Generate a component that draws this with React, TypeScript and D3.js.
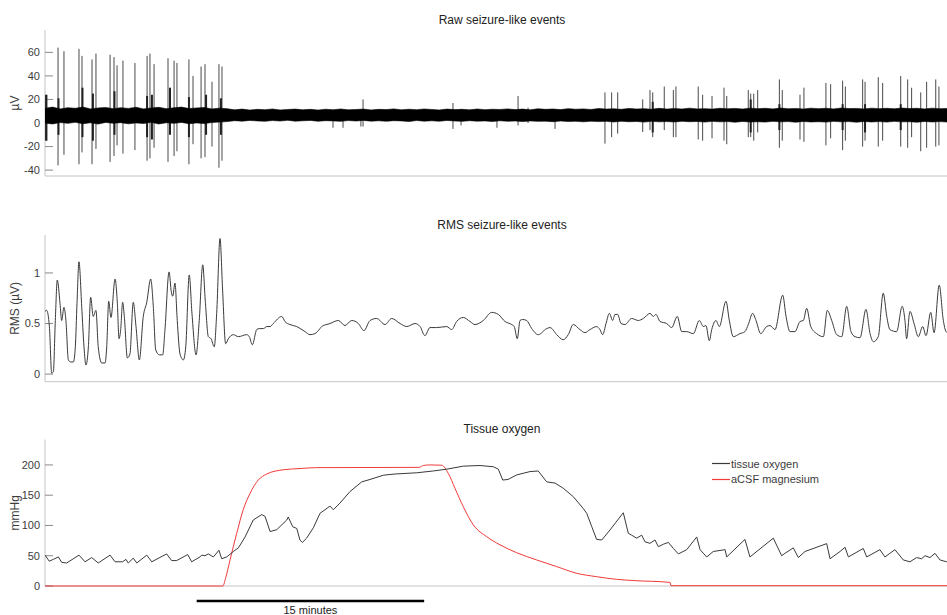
import React from "react";
import * as d3 from "d3";

// ---------- DATA ----------
// time axis in minutes (whole recording ~60 min)
const timeDomain: [number, number] = [0, 60];

// Raw trace: background band envelope (µV), sampled evenly over the recording
const bandHigh = [
  12.5, 13.5, 12, 13, 12.5, 13.5, 12, 12.8, 13.2, 12.2, 13, 12.4, 13.4, 12, 12.8, 13.3, 12.2, 12.9, 13.5, 12.3, 12.8, 13.1, 12, 12.6, 12.2,
  11.2, 11.8, 11, 11.6, 11.3, 11.9, 11.1, 11.5, 11.8, 11.2, 11.6, 11, 11.7, 11.3, 11.9, 11.2, 11.5, 11.8, 11.1, 11.6, 11.4, 12, 11.2, 11.7,
  11.3, 11.9, 11.5, 11.1, 11.8, 11.4, 11.6, 11.2, 11.9, 11.3, 11.7, 11.5, 12, 11.4, 11.8, 11.2, 12.1, 11.6, 11.9, 11.4, 12.2, 11.7, 12,
  11.5, 12.3, 11.8, 12.1, 11.6, 12.4, 11.9, 12.2, 11.7, 12.5, 11.8, 12.3, 11.9, 12.6, 12, 12.2, 11.8, 12.5, 12.1, 12.4, 11.9, 12.6, 12.2,
  12.5, 12, 12.7, 12.1, 12.4, 11.9, 12.6, 12.2, 12.5, 12, 12.7, 12.3, 12.4, 12, 12.6, 12.2, 12.5, 12.1, 12.7, 12.3, 12.5, 12, 12.6, 12.2,
  12.4, 12.1,
];
const bandLow = [
  0, -0.8, 0.4, -0.3, 0.6, -0.6, 0.2, -0.9, 0.5, -0.2, 0.3, -0.7, 0.1, -0.4, 0.6, -0.8, 0.2, -0.3, 0.5, -0.6, 0.1, -0.5, 0.4, 0.8, 1.2,
  2, 1.6, 2.2, 1.8, 1.5, 2.1, 1.7, 2.3, 1.6, 1.9, 2.2, 1.5, 2, 1.8, 1.4, 2.1, 1.7, 2.2, 1.6, 1.9, 1.5, 2, 1.8, 1.3, 2.1, 1.6, 1.9, 1.5,
  2.2, 1.7, 1.4, 2, 1.6, 1.8, 1.3, 1.9, 1.5, 1.7, 1.2, 1.8, 1.4, 1.6, 1.1, 1.7, 1.3, 1.5, 1, 1.6, 1.2, 1.4, 0.9, 1.5, 1.1, 1.3, 0.8, 1.4,
  1, 1.2, 0.9, 1.5, 1.1, 1.3, 0.8, 1.4, 1, 1.2, 0.7, 1.3, 0.9, 1.1, 0.8, 1.4, 1, 1.2, 0.7, 1.3, 0.9, 1.1, 0.8, 1.4, 1, 1.2, 0.7, 1.3,
  0.9, 1.2, 0.8, 1.4, 1, 1.1, 0.7, 1.3, 0.9, 1.2, 0.8, 1.0,
];

// Raw trace: spikes [minute, peak µV, trough µV]
const rawSpikes: [number, number, number][] = [
  [0.13, 24, -15], [0.86, 64, -36], [1.25, 61, -27], [2.24, 63, -35], [2.44, 57, -25], [3.1, 54, -35], [3.36, 59, -22],
  [4.29, 58, -33], [4.55, 56, -28], [4.75, 49, -19], [5.14, 53, -26], [5.93, 51, -23], [6.73, 57, -32], [6.92, 59, -30],
  [7.19, 50, -21], [8.11, 55, -33], [8.51, 53, -28], [8.7, 51, -24], [9.49, 54, -35], [9.76, 40, -18], [10.29, 48, -30],
  [10.55, 50, -29], [11.01, 35, -20], [11.47, 50, -38], [11.67, 48, -32],
  [18.99, 8, -4], [19.65, 8, -4], [20.83, 9, -3], [20.97, 20, -3], [26.9, 17, -5], [27.43, 12, -2], [29.8, 9, -4],
  [31.19, 23, -2], [31.85, 13, 0], [33.63, 9, -5],
  [36.92, 26, -17.5], [37.36, 26, -12], [37.76, 26, -9], [39.41, 20, -7.6], [39.89, 28, -6], [40.07, 26, -12], [40.83, 31, -6],
  [41.43, 28, -12], [41.6, 31, -12], [43.07, 31, -14], [43.36, 24, -15], [43.98, 23, -13], [44.77, 30, -15], [44.95, 23, -18],
  [46.37, 28, -12], [46.53, 25, -12], [46.73, 25, -15], [46.99, 28, -8], [48.42, 37, -21], [48.61, 28, -15], [49.78, 24, -14],
  [50.04, 30, -16], [51.49, 34, -19], [51.8, 33, -13], [52.59, 36, -23], [52.77, 31, -15], [53.91, 37, -20], [54.07, 35, -15],
  [54.94, 39, -20], [55.23, 34, -15], [56.42, 40, -20], [56.88, 37, -21], [57.14, 30, -12], [57.74, 26, -24], [58.13, 35, -21],
  [58.73, 37, -20], [58.94, 31, -19],
];

// Raw trace: short dense bursts around the spikes [minute, high, low]
const rawBursts: [number, number, number][] = [
  [0.07, 24, -15], [0.89, 21, -10], [2.47, 30, -12], [3.16, 25, -15], [4.58, 27, -10], [6.73, 23, -12], [7.05, 24, -14],
  [8.24, 30, -10], [9.49, 22, -12], [10.62, 24, -10], [11.6, 21, -10],
  [40.07, 18, -8], [46.53, 20, -8], [48.42, 16, -6], [52.59, 16, -6], [54.07, 16, -8], [56.42, 16, -6],
];

// RMS trace [minute, RMS µV]
const rmsSeries: [number, number][] = [
  [0, 0.62], [0.11, 0.63], [0.29, 0.47], [0.44, 0.01], [0.55, 0.02], [0.68, 0.53], [0.81, 0.93], [0.99, 0.7], [1.1, 0.53],
  [1.25, 0.66], [1.38, 0.53], [1.54, 0.14], [1.69, 0.12], [1.87, 0.12], [2.0, 0.27], [2.11, 0.7], [2.24, 1.11], [2.42, 0.67],
  [2.57, 0.27], [2.7, 0.09], [2.86, 0.27], [3.01, 0.76], [3.18, 0.57], [3.36, 0.63], [3.51, 0.27], [3.74, 0.11], [3.96, 0.11],
  [4.07, 0.27], [4.2, 0.72], [4.35, 0.56], [4.62, 0.94], [4.77, 0.7], [4.88, 0.35], [4.99, 0.44], [5.12, 0.71], [5.23, 0.57],
  [5.43, 0.16], [5.6, 0.2], [5.82, 0.71], [6.0, 0.47], [6.22, 0.14], [6.48, 0.57], [6.71, 0.71], [6.97, 0.94], [7.14, 0.67],
  [7.3, 0.24], [7.54, 0.19], [7.76, 0.19], [7.91, 0.44], [8.18, 1.01], [8.33, 0.81], [8.42, 0.77], [8.57, 0.9], [8.72, 0.53],
  [8.9, 0.2], [9.12, 0.14], [9.28, 0.27], [9.51, 0.98], [9.69, 0.6], [9.96, 0.19], [10.17, 0.53], [10.4, 1.08], [10.57, 0.72],
  [10.77, 0.37], [10.95, 0.35], [11.16, 0.27], [11.32, 0.6], [11.54, 1.34], [11.71, 0.83], [11.91, 0.3], [12.09, 0.35],
  [12.42, 0.39], [12.75, 0.37], [13.3, 0.39], [13.47, 0.37], [13.67, 0.29], [13.96, 0.44], [14.13, 0.45], [14.4, 0.45],
  [14.62, 0.47], [14.84, 0.47], [15.05, 0.5], [15.61, 0.57], [15.82, 0.52], [16.15, 0.49], [16.6, 0.47], [17.14, 0.42],
  [17.47, 0.39], [17.8, 0.4], [18.13, 0.45], [18.24, 0.47], [18.79, 0.5], [19.34, 0.53], [19.78, 0.48], [20.22, 0.53],
  [20.66, 0.5], [21.03, 0.43], [21.43, 0.53], [21.87, 0.55], [22.42, 0.49], [22.86, 0.55], [23.41, 0.5], [23.85, 0.47],
  [24.4, 0.5], [24.73, 0.47], [25.05, 0.38], [25.38, 0.46], [25.82, 0.46], [26.49, 0.47], [26.81, 0.44], [27.14, 0.52],
  [27.58, 0.56], [28.02, 0.52], [28.35, 0.49], [28.9, 0.53], [29.45, 0.61], [29.89, 0.59], [30.33, 0.52], [30.77, 0.49],
  [30.94, 0.47], [31.14, 0.35], [31.32, 0.53], [31.49, 0.54], [31.76, 0.53], [32.09, 0.45], [32.52, 0.39], [33.08, 0.45],
  [33.3, 0.46], [33.74, 0.39], [34.17, 0.34], [34.5, 0.39], [34.83, 0.49], [35.27, 0.44], [35.6, 0.41], [35.93, 0.44],
  [36.37, 0.47], [36.59, 0.44], [36.77, 0.39], [36.99, 0.5], [37.21, 0.6], [37.43, 0.53], [37.58, 0.59], [37.76, 0.59],
  [37.98, 0.5], [38.24, 0.49], [38.68, 0.55], [39.12, 0.53], [39.45, 0.55], [39.89, 0.6], [40.11, 0.57], [40.28, 0.59],
  [40.55, 0.52], [40.99, 0.5], [41.32, 0.46], [41.69, 0.57], [41.98, 0.42], [42.31, 0.42], [42.75, 0.4], [43.14, 0.53],
  [43.41, 0.47], [43.58, 0.48], [43.8, 0.33], [43.96, 0.44], [44.24, 0.53], [44.46, 0.47], [44.9, 0.72], [45.12, 0.53],
  [45.38, 0.37], [45.82, 0.4], [46.15, 0.42], [46.37, 0.49], [46.66, 0.6], [46.88, 0.53], [47.19, 0.4], [47.58, 0.47],
  [47.8, 0.48], [48.13, 0.44], [48.64, 0.78], [48.86, 0.57], [49.12, 0.42], [49.45, 0.42], [49.78, 0.52], [50.0, 0.53],
  [50.22, 0.65], [50.49, 0.47], [50.88, 0.4], [51.32, 0.37], [51.58, 0.63], [51.87, 0.53], [52.2, 0.39], [52.53, 0.37],
  [52.86, 0.67], [53.14, 0.42], [53.41, 0.37], [53.74, 0.36], [54.13, 0.64], [54.4, 0.4], [54.62, 0.32], [54.94, 0.37],
  [55.27, 0.8], [55.5, 0.57], [55.71, 0.44], [56.15, 0.42], [56.52, 0.67], [56.7, 0.53], [56.81, 0.35], [57.03, 0.62],
  [57.3, 0.5], [57.58, 0.37], [57.87, 0.47], [58.09, 0.38], [58.4, 0.61], [58.62, 0.41], [58.96, 0.88], [59.23, 0.53],
  [59.41, 0.42], [59.6, 0.4],
];

// Tissue oxygen [minute, mmHg]
const oxygenSeries: [number, number][] = [
  [0, 51], [0.28, 41], [0.55, 44], [0.88, 48], [1.1, 39], [1.43, 38], [2.24, 51], [2.64, 40], [3.08, 47], [3.51, 38],
  [4.29, 51], [4.62, 40], [5.12, 40], [5.34, 44], [5.49, 38], [5.82, 46], [6.05, 38], [6.71, 51], [7.04, 40], [8.02, 53],
  [8.35, 42], [8.68, 42], [9.41, 52], [9.67, 40], [10.22, 48], [10.33, 51], [10.55, 50], [10.77, 53], [11.1, 48], [11.47, 59],
  [11.65, 45], [11.98, 48], [12.42, 57], [12.75, 63], [13.19, 81], [13.73, 109], [14.29, 118], [14.51, 115], [14.84, 90],
  [15.28, 93], [15.94, 109], [16.04, 114], [16.33, 98], [16.6, 95], [16.81, 76], [16.97, 72], [17.25, 79], [17.69, 96],
  [18.13, 120], [18.79, 132], [19.01, 126], [19.45, 137], [20.11, 156], [20.88, 172], [21.43, 176], [22.31, 183],
  [23.08, 185], [24.51, 187], [25.6, 190], [26.49, 193], [27.58, 198], [28.68, 199], [29.56, 197], [29.89, 193],
  [30.18, 175], [30.53, 176], [31.1, 183.5], [31.98, 189], [32.52, 190], [33.08, 172], [33.63, 170], [34.17, 161.5],
  [34.83, 147.6], [35.49, 128], [35.72, 120], [36.05, 98], [36.37, 77], [36.71, 76], [37.25, 92.5], [38.13, 121],
  [38.46, 87], [38.68, 84], [39.01, 79], [39.34, 84], [39.56, 73], [39.89, 70.5], [40.22, 76], [40.44, 65], [40.77, 69],
  [41.1, 72], [41.43, 62], [41.76, 53], [42.31, 60], [42.97, 81], [43.19, 60], [43.63, 48], [44.06, 57], [44.84, 60],
  [44.95, 48], [46.15, 77], [46.48, 48], [48.02, 79], [48.57, 50], [48.79, 54], [49.34, 63], [49.67, 47], [50.11, 57],
  [51.54, 70], [51.76, 45], [52.42, 57], [52.75, 64], [52.97, 48], [53.95, 62], [54.18, 48], [55.05, 60], [55.38, 48],
  [56.04, 60], [56.59, 43], [57.03, 40], [57.47, 47], [57.8, 45], [58.02, 50], [58.35, 47], [58.68, 54], [59.01, 43],
  [59.45, 40], [60, 42],
];

// aCSF magnesium (red) [minute, mmHg-scaled]
const magnesiumSeries: [number, number][] = [
  [0, 0], [11.72, 0], [11.93, 15], [12.2, 43], [12.64, 87], [13.07, 126], [13.52, 153], [14.06, 175], [14.62, 185],
  [15.71, 192], [16.81, 194], [17.91, 195.5], [24.68, 196], [24.94, 199], [25.38, 200], [26.16, 199.5], [26.59, 186],
  [27.03, 161.5], [27.58, 131], [28.24, 101], [29.12, 81.5], [30.0, 68], [31.1, 55], [32.42, 43], [33.74, 32], [35.06, 21],
  [36.37, 15.4], [37.69, 11], [38.79, 9], [41.21, 6], [41.27, 0.5], [60, 0.5],
];

const rawTicks = [-40, -20, 0, 20, 40, 60];
const rmsTicks = [0, 0.5, 1];
const oxygenTicks = [0, 50, 100, 150, 200];
const legendLabels = ["tissue oxygen", "aCSF magnesium"];
const scaleBar = { start: 10, minutes: 15, label: "15 minutes" };

// ---------- LAYOUT ----------
const W = 947;
const H = 615;
const FONT = "'Liberation Sans', Arial, Helvetica, sans-serif";
const AXIS = "#c4c4c4";
const TXT = "#3c3c3c";
const RED = "#f23a3a";

const x = d3.scaleLinear().domain(timeDomain).range([45, 955]);
const rawY = d3.scaleLinear().domain([-45, 79]).range([176, 30]);
const rmsY = d3.scaleLinear().domain([-0.075, 1.375]).range([381.7, 235]);
const oxY = d3.scaleLinear().domain([0, 242]).range([586, 439.5]);

function Axes({ y, ticks, label, title, titleY }: any) {
  const [b, t] = y.range();
  return (
    <g fontFamily={FONT}>
      <line x1={45} x2={W} y1={b} y2={b} stroke={AXIS} strokeWidth={1} />
      <line x1={45} x2={45} y1={t} y2={b} stroke={AXIS} strokeWidth={1} />
      {ticks.map((v: number) => (
        <g key={v}>
          <line x1={45} x2={53} y1={y(v)} y2={y(v)} stroke="#8a8a8a" strokeWidth={1} />
          <text x={40} y={y(v)} dy="0.35em" textAnchor="end" fontSize={11} fill={TXT}>
            {v}
          </text>
        </g>
      ))}
      <text
        transform={`translate(19,${(t + b) / 2}) rotate(-90)`}
        textAnchor="middle"
        fontSize={12}
        fill={TXT}
      >
        {label}
      </text>
      <text x={502} y={titleY} textAnchor="middle" fontSize={12} fill="#222">
        {title}
      </text>
    </g>
  );
}

export default function App() {
  const n = Math.min(bandHigh.length, bandLow.length);
  const band = d3.range(n).map((i) => ({
    t: timeDomain[0] + (i * (timeDomain[1] - timeDomain[0])) / (n - 1),
    hi: bandHigh[i],
    lo: bandLow[i],
  }));
  const bandArea = d3
    .area<{ t: number; hi: number; lo: number }>()
    .x((d) => x(d.t))
    .y0((d) => rawY(d.lo))
    .y1((d) => rawY(d.hi));

  const rmsLine = d3
    .line<[number, number]>()
    .x((d) => x(d[0]))
    .y((d) => rmsY(d[1]))
    .curve(d3.curveMonotoneX);
  const mgLine = d3
    .line<[number, number]>()
    .x((d) => x(d[0]))
    .y((d) => oxY(d[1]))
    .curve(d3.curveMonotoneX);
  const oxLine = d3
    .line<[number, number]>()
    .x((d) => x(d[0]))
    .y((d) => oxY(d[1]));

  return (
    <svg
      width={W}
      height={H}
      style={{ position: "absolute", left: 0, top: 0, background: "#fff" }}
    >
      <defs>
        <clipPath id="plotclip">
          <rect x={45} y={0} width={W - 45} height={H} />
        </clipPath>
      </defs>

      {/* Panel 1: Raw */}
      <Axes y={rawY} ticks={rawTicks} label="µV" title="Raw seizure-like events" titleY={24} />
      <g clipPath="url(#plotclip)">
        {rawSpikes.map(([t, hi, lo], i) => (
          <line key={"s" + i} x1={x(t)} x2={x(t)} y1={rawY(hi)} y2={rawY(lo)} stroke="#4a4a4a" strokeWidth={1} />
        ))}
        {rawBursts.map(([t, hi, lo], i) => (
          <line key={"b" + i} x1={x(t)} x2={x(t)} y1={rawY(hi)} y2={rawY(lo)} stroke="#222" strokeWidth={2} />
        ))}
        <path d={bandArea(band) || ""} fill="#000" stroke="#000" strokeWidth={0.6} />
      </g>

      {/* Panel 2: RMS */}
      <Axes y={rmsY} ticks={rmsTicks} label="RMS (µV)" title="RMS seizure-like events" titleY={229} />
      <g clipPath="url(#plotclip)">
        <path d={rmsLine(rmsSeries) || ""} fill="none" stroke="#3a3a3a" strokeWidth={1} />
      </g>

      {/* Panel 3: Tissue oxygen */}
      <Axes y={oxY} ticks={oxygenTicks} label="mmHg" title="Tissue oxygen" titleY={433} />
      <g clipPath="url(#plotclip)">
        <path d={mgLine(magnesiumSeries) || ""} fill="none" stroke={RED} strokeWidth={1} />
        <path d={oxLine(oxygenSeries) || ""} fill="none" stroke="#3a3a3a" strokeWidth={1} />
      </g>

      {/* Legend */}
      <g fontFamily={FONT} fontSize={11} fill={TXT}>
        <line x1={712} x2={730} y1={463.5} y2={463.5} stroke="#3a3a3a" strokeWidth={1.2} />
        <text x={731} y={467.5}>{legendLabels[0]}</text>
        <line x1={712} x2={730} y1={479.5} y2={479.5} stroke={RED} strokeWidth={1.2} />
        <text x={731} y={483}>{legendLabels[1]}</text>
      </g>

      {/* Scale bar */}
      <line
        x1={x(scaleBar.start)}
        x2={x(scaleBar.start + scaleBar.minutes)}
        y1={601}
        y2={601}
        stroke="#000"
        strokeWidth={2.5}
      />
      <text
        x={(x(scaleBar.start) + x(scaleBar.start + scaleBar.minutes)) / 2}
        y={614}
        textAnchor="middle"
        fontFamily={FONT}
        fontSize={11}
        fill="#222"
      >
        {scaleBar.label}
      </text>
    </svg>
  );
}
